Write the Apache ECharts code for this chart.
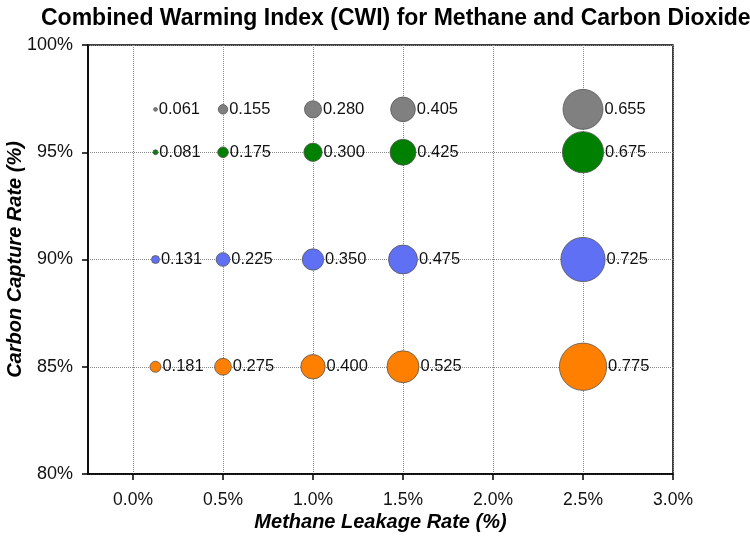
<!DOCTYPE html>
<html>
<head>
<meta charset="utf-8">
<script src="https://cdn.jsdelivr.net/npm/echarts@6/dist/echarts.min.js"></script>
<style>
  html, body { margin: 0; padding: 0; background: #fff; }
  #main { width: 750px; height: 545px; }
</style>
</head>
<body>
<div id="main"></div>
<script>
// leakage rates (x) and capture rates (y)
var leakRates = [0.125, 0.5, 1.0, 1.5, 2.5];
var xTicks = [0, 0.5, 1.0, 1.5, 2.0, 2.5, 3.0];
var xGrid = [0, 0.5, 1.0, 1.5, 2.0, 2.5];

// CWI values per row
var rowNames = ['97%', '95%', '90%', '85%'];
var rowY = [97, 95, 90, 85];
var cwiGray = [0.061, 0.155, 0.280, 0.405, 0.655];
var cwiGreen = [0.081, 0.175, 0.300, 0.425, 0.675];
var cwiBlue = [0.131, 0.225, 0.350, 0.475, 0.725];
var cwiOrange = [0.181, 0.275, 0.400, 0.525, 0.775];
var rowValues = [cwiGray, cwiGreen, cwiBlue, cwiOrange];
var rowColors = ['#808080', '#008000', '#6070f4', '#ff7f00'];

var font = 'Liberation Sans, Arial, Helvetica, sans-serif';

var series = rowValues.map(function (vals, i) {
    return {
        name: rowNames[i],
        type: 'scatter',
        data: vals.map(function (v, j) { return [leakRates[j], rowY[i], v]; }),
        symbolSize: function (d) { return d[2] * 61; },
        itemStyle: { color: rowColors[i], borderColor: '#555', borderWidth: 0.8, opacity: 1 },
        label: {
            show: true,
            position: 'right',
            distance: 1,
            fontFamily: font,
            fontSize: 16.5,
            color: '#111',
            formatter: function (p) { return p.value[2].toFixed(3); }
        },
        z: 3
    };
});

var myChart = echarts.init(document.getElementById('main'));

var option = {
    animation: false,
    title: {
        text: 'Combined Warming Index (CWI) for Methane and Carbon Dioxide',
        left: 36,
        top: 2,
        textStyle: { fontFamily: font, fontSize: 23, fontWeight: 'bold', color: '#000' }
    },
    grid: {
        left: 88, right: 77, top: 45, bottom: 71,
        outerBoundsMode: 'none',
        containLabel: false,
        show: true, borderColor: '#000', borderWidth: 1.5
    },
    xAxis: {
        type: 'value',
        min: -0.25,
        max: 3.0,
        name: 'Methane Leakage Rate (%)',
        nameLocation: 'middle',
        nameGap: 38,
        nameMoveOverlap: false,
        nameTextStyle: { fontFamily: font, fontSize: 20, fontWeight: 'bold', fontStyle: 'italic', color: '#000' },
        axisLine: { onZero: false, lineStyle: { color: '#000', width: 1.5 } },
        axisTick: { customValues: xTicks, length: 6, lineStyle: { color: '#000', width: 1.5 } },
        axisLabel: {
            customValues: xTicks,
            margin: 17,
            fontFamily: font, fontSize: 17.5, color: '#111',
            formatter: function (v) { return v.toFixed(1) + '%'; }
        },
        splitLine: { show: true, customValues: xGrid, lineStyle: { color: '#888', type: 'dotted', width: 1 } }
    },
    yAxis: {
        type: 'value',
        min: 80,
        max: 100,
        interval: 5,
        name: 'Carbon Capture Rate (%)',
        nameLocation: 'middle',
        nameGap: 63,
        nameMoveOverlap: false,
        nameTextStyle: { fontFamily: font, fontSize: 20, fontWeight: 'bold', fontStyle: 'italic', color: '#000' },
        axisLine: { show: true, onZero: false, lineStyle: { color: '#000', width: 1.5 } },
        axisTick: { show: true, length: 6, lineStyle: { color: '#000', width: 1.5 } },
        axisLabel: {
            margin: 15,
            fontFamily: font, fontSize: 18, color: '#111',
            formatter: function (v) { return v + '%'; }
        },
        splitLine: { show: true, lineStyle: { color: '#888', type: 'dotted', width: 1 } }
    },
    series: series
};

myChart.setOption(option);
</script>
</body>
</html>
